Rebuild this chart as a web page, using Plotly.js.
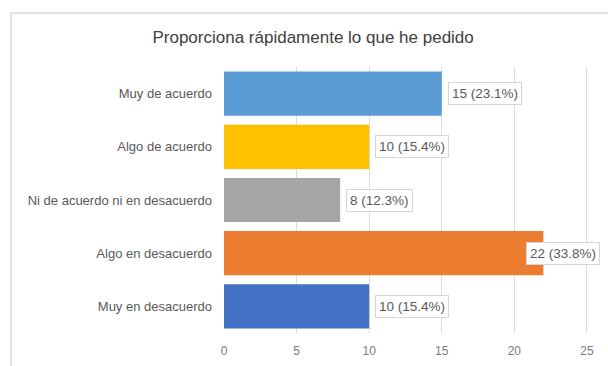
<!DOCTYPE html>
<html>
<head>
<meta charset="utf-8">
<script src="https://cdn.plot.ly/plotly-3.0.1.min.js"></script>
<style>
  html, body { margin: 0; padding: 0; background: #ffffff; overflow: hidden; }
  #wrap { position: relative; width: 608px; height: 366px; }
  #frame { position: absolute; left: 10px; top: 12px; width: 640px; height: 400px;
           border: 2px solid #e3e3e3; box-sizing: border-box; }
  #chart { position: absolute; left: 0; top: 0; width: 608px; height: 366px; }
</style>
</head>
<body>
<div id="wrap">
  <div id="frame"></div>
  <div id="chart"></div>
</div>
<script>
const categories = ["Muy de acuerdo", "Algo de acuerdo", "Ni de acuerdo ni en desacuerdo", "Algo en desacuerdo", "Muy en desacuerdo"];
const counts = [15, 10, 8, 22, 10];
const labels = ["15 (23.1%)", "10 (15.4%)", "8 (12.3%)", "22 (33.8%)", "10 (15.4%)"];
const colors = ["#5B9BD5", "#FFC000", "#A5A5A5", "#ED7D31", "#4472C4"];
const xTicks = [0, 5, 10, 15, 20, 25];

const FONT = "Liberation Sans, Arial, sans-serif";
const XMAX = 25.9;

const trace = {
  type: "bar",
  orientation: "h",
  y: categories,
  x: counts,
  marker: { color: colors },
  hoverinfo: "none"
};

// labels sit just right of each bar; a label that would run past the plot edge is pulled back over the bar end
const annotations = categories.map((c, i) => ({
  x: counts[i], y: c, xref: "x", yref: "y",
  text: labels[i], showarrow: false,
  xanchor: "left", yanchor: "middle",
  xshift: counts[i] > XMAX - 5 ? -17 : 6,
  bgcolor: "#ffffff", bordercolor: "#d6d6d6", borderwidth: 1, borderpad: 3,
  font: { family: FONT, size: 13.5, color: "#595959" }
}));

const layout = {
  width: 608, height: 366,
  paper_bgcolor: "rgba(0,0,0,0)",
  plot_bgcolor: "rgba(0,0,0,0)",
  margin: { l: 224, r: 8, t: 67, b: 33 },
  title: {
    text: "Proporciona rápidamente lo que he pedido",
    font: { family: FONT, size: 17, color: "#404040" },
    x: 0.515, xanchor: "center", y: 0.9, yanchor: "middle"
  },
  xaxis: {
    range: [0, XMAX],
    tickvals: xTicks,
    showgrid: true, gridcolor: "#dcdcdc", gridwidth: 1,
    zeroline: false, showline: false,
    ticks: "", ticklabelstandoff: 9,
    tickfont: { family: FONT, size: 12, color: "#7a7a7a" },
    fixedrange: true
  },
  yaxis: {
    autorange: "reversed",
    showgrid: false, zeroline: false, showline: false,
    ticks: "", ticklabelstandoff: 11,
    tickfont: { family: FONT, size: 13, color: "#595959" },
    fixedrange: true
  },
  bargap: 0.17,
  showlegend: false,
  annotations: annotations
};

Plotly.newPlot("chart", [trace], layout, { displayModeBar: false, staticPlot: true });
</script>
</body>
</html>
